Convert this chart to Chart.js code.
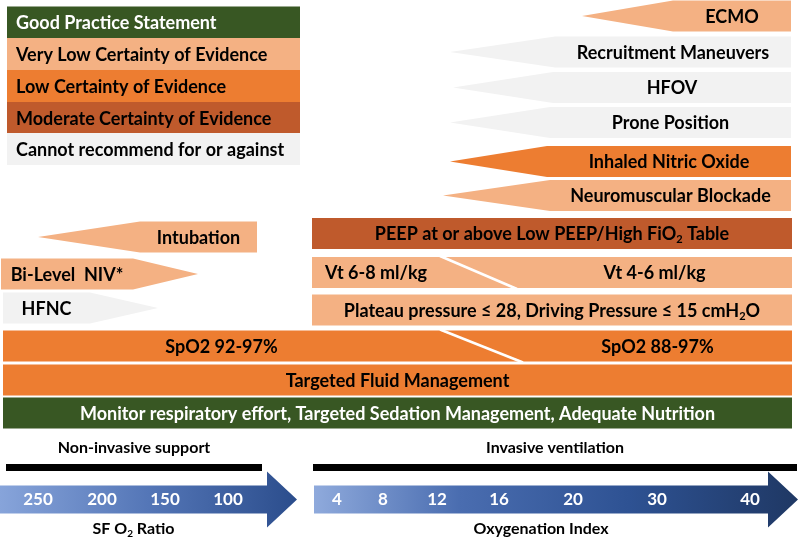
<!DOCTYPE html>
<html lang="en">

<head>
  <meta charset="UTF-8">
  <title>Respiratory support by severity and certainty of evidence</title>
  <style>
    html, body {
      margin: 0;
      padding: 0;
      background: #fff;
    }

    .chart-container {
      position: relative;
      width: 800px;
      height: 539px;
    }
  </style>
  <script src="https://cdn.jsdelivr.net/npm/chart.js"></script>
</head>

<body>
  <div class="chart-container">
    <canvas id="supportChart"></canvas>
  </div>

  <script>
    // Legend: certainty of evidence levels (top left boxes)
    const evidenceLevels = [
      'Good Practice Statement',
      'Very Low Certainty of Evidence',
      'Low Certainty of Evidence',
      'Moderate Certainty of Evidence',
      'Cannot recommend for or against'
    ];
    const legendSpan = [7, 300];
    const legendRows = [22.5, 54, 86, 118, 149];

    // Interventions: extent along the severity axis, row, and evidence level (index into evidenceLevels)
    const interventions = [
      'ECMO', 'Recruitment Maneuvers', 'HFOV', 'Prone Position', 'Inhaled Nitric Oxide', 'Neuromuscular Blockade',
      'Intubation', 'Bi-Level  NIV*', 'HFNC',
      'PEEP at or above Low PEEP/High FiO₂ Table', 'Vt 6-8 ml/kg', 'Vt 4-6 ml/kg',
      'Plateau pressure ≤ 28, Driving Pressure ≤ 15 cmH₂O',
      'SpO2 92-97%', 'SpO2 88-97%', 'Targeted Fluid Management',
      'Monitor respiratory effort, Targeted Sedation Management, Adequate Nutrition'
    ];
    const interventionStart = [582, 450, 453, 450, 450, 443, 38, 1, 3, 312, 312, 440, 312, 3, 440, 3, 3];
    const interventionEnd = [791, 791, 791, 791, 791, 791, 257, 198, 158, 792, 440, 792, 792, 440, 792, 792, 792];
    const interventionRow = [16, 52, 87.5, 122.5, 161.5, 195.5, 237, 274, 308, 233.5, 272.5, 272.5, 310, 346, 346, 380, 413];
    const interventionLevel = [1, 4, 4, 4, 2, 1, 1, 1, 4, 3, 1, 1, 1, 2, 2, 2, 0];

    // Severity scales at the bottom
    const phaseLabels = ['Non-invasive support', 'Invasive ventilation'];
    const phaseStart = [6, 313];
    const phaseEnd = [262, 797];
    const phaseRow = 467.5;
    const phaseLabelRow = 448;
    const scaleNames = ['SF O₂ Ratio', 'Oxygenation Index'];
    const scaleStart = [0, 314];
    const scaleEnd = [297, 798];
    const scaleRow = 499.5;
    const scaleNameRow = 529;
    const sfRatioTicks = ['250', '200', '150', '100'];
    const sfRatioTickPos = [38, 102, 165, 228];
    const oxygenationIndexTicks = ['4', '8', '12', '16', '20', '30', '40'];
    const oxygenationIndexTickPos = [337, 383, 437, 499, 573, 657, 750];

    // Styles
    const levelColors = ['#385723', '#F4B183', '#ED7D31', '#BF5A2C', '#F2F2F2'];
    const levelTextColors = ['#ffffff', '#000000', '#000000', '#000000', '#000000'];
    const interventionShape = ['left', 'left', 'left', 'left', 'left', 'left', 'left', 'right', 'right',
      'bar', 'cutRight', 'cutLeft', 'bar', 'cutRight', 'cutLeft', 'bar', 'bar'];
    const shapeDepth = [91, 105, 100, 100, 97, 107, 102, 65, 68, 0, 77, 77, 0, 83, 83, 0, 0];
    const FONT = 'Lato, "Open Sans", sans-serif';

    // Draws a label, rendering "₂" as a real lowered, smaller 2
    function drawLabel(ctx, text, x, y, size, color, align) {
      const mainFont = `bold ${size}px ${FONT}`;
      const subFont = `bold ${Math.round(size * 0.62)}px ${FONT}`;
      const parts = text.split('₂');
      let total = 0;
      const widths = parts.map((p, i) => {
        ctx.font = mainFont;
        let w = ctx.measureText(p).width;
        if (i < parts.length - 1) {
          ctx.font = subFont;
          w += ctx.measureText('2').width;
        }
        total += w;
        return w;
      });
      let cx = align === 'left' ? x : x - total / 2;
      ctx.fillStyle = color;
      ctx.textAlign = 'left';
      ctx.textBaseline = 'middle';
      parts.forEach((p, i) => {
        ctx.font = mainFont;
        ctx.fillText(p, cx, y);
        const pw = ctx.measureText(p).width;
        if (i < parts.length - 1) {
          ctx.font = subFont;
          ctx.fillText('2', cx + pw, y + size * 0.28);
        }
        cx += widths[i];
      });
    }

    function polygon(ctx, pts, fill) {
      ctx.beginPath();
      ctx.moveTo(pts[0][0], pts[0][1]);
      pts.slice(1).forEach(p => ctx.lineTo(p[0], p[1]));
      ctx.closePath();
      ctx.fillStyle = fill;
      ctx.fill();
    }

    // Replaces plain rectangles with the arrow / slanted shapes, using each bar's own geometry
    const shapesPlugin = {
      id: 'shapes',
      beforeDatasetDraw(chart, args) {
        const ctx = chart.ctx;
        const ds = chart.data.datasets[args.index];
        const xs = chart.scales.x;
        const ys = chart.scales.y;
        ctx.save();
        args.meta.data.forEach((bar, i) => {
          const x0 = Math.min(bar.base, bar.x);
          const x1 = Math.max(bar.base, bar.x);
          const top = bar.y - bar.height / 2;
          const bottom = bar.y + bar.height / 2;
          const shape = ds.shapes ? ds.shapes[i] : 'bar';
          const d = ds.depths ? ds.depths[i] : 0;
          const fill = Array.isArray(ds.backgroundColor) ? ds.backgroundColor[i] : ds.backgroundColor;
          let textX = (x0 + x1) / 2;

          if (ds.kind === 'scale') {
            const grad = ctx.createLinearGradient(x0, 0, x1, 0);
            ds.gradients[i].forEach(([stop, c]) => grad.addColorStop(stop, c));
            const head = 30;
            polygon(ctx, [[x0, top], [x1 - head, top], [x1 - head, bar.y - 28], [x1, bar.y],
              [x1 - head, bar.y + 28], [x1 - head, bottom], [x0, bottom]], grad);
            ds.ticks[i].forEach((t, k) => {
              drawLabel(ctx, t, xs.getPixelForValue(ds.tickPos[i][k]), bar.y, 17, '#ffffff', 'center');
            });
            drawLabel(ctx, ds.labels[i], (x0 + x1 - head) / 2, ys.getPixelForValue(scaleNameRow), 16, '#000000', 'center');
            return;
          }
          if (ds.kind === 'phase') {
            polygon(ctx, [[x0, top], [x1, top], [x1, bottom], [x0, bottom]], '#000000');
            drawLabel(ctx, ds.labels[i], (x0 + x1) / 2, ys.getPixelForValue(phaseLabelRow), 16, '#000000', 'center');
            return;
          }

          if (shape === 'left') {
            polygon(ctx, [[x0, bar.y], [x0 + d, top], [x1, top], [x1, bottom], [x0 + d, bottom]], fill);
            textX = (x0 + d + x1) / 2;
          } else if (shape === 'right') {
            polygon(ctx, [[x0, top], [x1 - d, top], [x1, bar.y], [x1 - d, bottom], [x0, bottom]], fill);
            textX = (x0 + x1 - d) / 2;
          } else if (shape === 'cutRight') {
            polygon(ctx, [[x0, top], [x1, top], [x1 + d, bottom], [x0, bottom]], fill);
          } else if (shape === 'cutLeft') {
            polygon(ctx, [[x0, top], [x1, top], [x1, bottom], [x0 + d, bottom]], fill);
            ctx.strokeStyle = '#ffffff';
            ctx.lineWidth = 2.5;
            ctx.beginPath();
            ctx.moveTo(x0, top - 1);
            ctx.lineTo(x0 + d, bottom + 1);
            ctx.stroke();
            textX = (x0 + d + x1) / 2;
          } else {
            polygon(ctx, [[x0, top], [x1, top], [x1, bottom], [x0, bottom]], fill);
          }

          const color = ds.textColors[i];
          if (ds.kind === 'legend') {
            drawLabel(ctx, ds.labels[i], x0 + 9, bar.y + 1, 18, color, 'left');
          } else {
            drawLabel(ctx, ds.labels[i], textX, bar.y + 1, 18, color, 'center');
          }
        });
        ctx.restore();
        return false; // shapes already drawn
      }
    };

    const ctx = document.getElementById('supportChart').getContext('2d');
    new Chart(ctx, {
      type: 'bar',
      data: {
        datasets: [
          {
            kind: 'legend',
            labels: evidenceLevels,
            data: legendRows.map(y => ({ x: legendSpan, y: y })),
            backgroundColor: levelColors,
            textColors: levelTextColors,
            barThickness: 32,
            grouped: false
          },
          {
            kind: 'intervention',
            labels: interventions,
            data: interventions.map((_, i) => ({ x: [interventionStart[i], interventionEnd[i]], y: interventionRow[i] })),
            backgroundColor: interventionLevel.map(l => levelColors[l]),
            textColors: interventionLevel.map(l => levelTextColors[l]),
            shapes: interventionShape,
            depths: shapeDepth,
            barThickness: 31,
            grouped: false
          },
          {
            kind: 'phase',
            labels: phaseLabels,
            data: phaseLabels.map((_, i) => ({ x: [phaseStart[i], phaseEnd[i]], y: phaseRow })),
            backgroundColor: '#000000',
            barThickness: 7,
            grouped: false
          },
          {
            kind: 'scale',
            labels: scaleNames,
            data: scaleNames.map((_, i) => ({ x: [scaleStart[i], scaleEnd[i]], y: scaleRow })),
            backgroundColor: '#2F5597',
            ticks: [sfRatioTicks, oxygenationIndexTicks],
            tickPos: [sfRatioTickPos, oxygenationIndexTickPos],
            gradients: [
              [[0, '#87A4DA'], [0.5, '#5476B7'], [1, '#2B4D8C']],
              [[0, '#8FAADC'], [0.3, '#4A6DB0'], [0.65, '#2E5293'], [1, '#1F3864']]
            ],
            barThickness: 28,
            grouped: false
          }
        ]
      },
      options: {
        indexAxis: 'y',
        responsive: true,
        maintainAspectRatio: false,
        animation: false,
        layout: { padding: 0 },
        scales: {
          x: { type: 'linear', min: 0, max: 800, display: false },
          y: { type: 'linear', min: 0, max: 539, reverse: true, offset: false, display: false }
        },
        plugins: {
          legend: { display: false },
          tooltip: { enabled: false }
        }
      },
      plugins: [shapesPlugin]
    });
  </script>
</body>

</html>
